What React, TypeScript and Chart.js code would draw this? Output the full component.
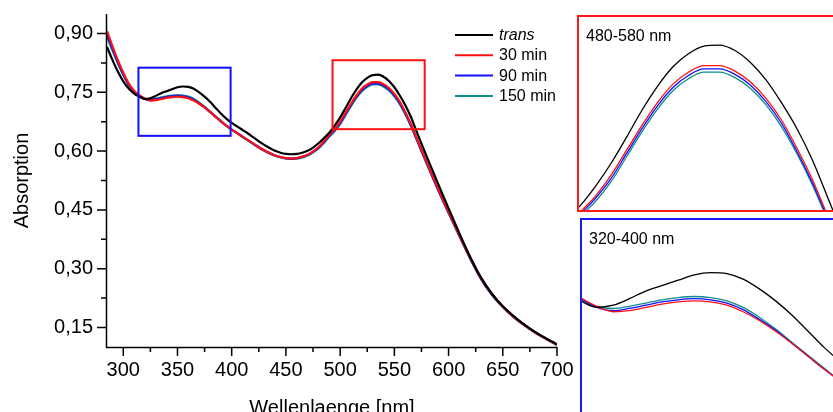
import React, { useEffect, useRef } from "react";
import { Chart, registerables } from "chart.js";

Chart.register(...registerables);

// ---------------- data ----------------
const wavelengths = [
  285, 290, 295, 300, 305, 310, 315, 320, 325, 330, 335, 340, 345, 350, 355, 360,
  365, 370, 375, 380, 385, 390, 395, 400, 405, 410, 415, 420, 425, 430, 435, 440,
  445, 450, 455, 460, 465, 470, 475, 480, 485, 490, 495, 500, 505, 510, 515, 520,
  525, 530, 535, 540, 545, 550, 555, 560, 565, 570, 575, 580, 585, 590, 595, 600,
  610, 620, 630, 640, 650, 660, 670, 680, 690, 700,
];

const transValues = [
  0.866, 0.833, 0.803, 0.778, 0.760, 0.747, 0.739, 0.733, 0.735, 0.741, 0.748, 0.753, 0.758, 0.763, 0.765, 0.764,
  0.759, 0.750, 0.739, 0.726, 0.711, 0.696, 0.683, 0.672, 0.663, 0.654, 0.645, 0.635, 0.625, 0.616, 0.608, 0.601,
  0.596, 0.593, 0.592, 0.593, 0.596, 0.601, 0.609, 0.620, 0.633, 0.647, 0.665, 0.686, 0.710, 0.735, 0.757, 0.775,
  0.787, 0.794, 0.795, 0.790, 0.779, 0.763, 0.742, 0.718, 0.689, 0.654, 0.619, 0.585, 0.552, 0.519, 0.486, 0.454,
  0.390, 0.330, 0.277, 0.236, 0.204, 0.179, 0.157, 0.138, 0.122, 0.107,
];

const min30Values = [
  0.906, 0.868, 0.832, 0.800, 0.773, 0.754, 0.742, 0.734, 0.729, 0.730, 0.733, 0.736, 0.738, 0.739, 0.738, 0.735,
  0.729, 0.721, 0.711, 0.700, 0.688, 0.676, 0.665, 0.655, 0.646, 0.637, 0.628, 0.619, 0.610, 0.602, 0.595, 0.589,
  0.585, 0.582, 0.581, 0.582, 0.586, 0.591, 0.599, 0.610, 0.625, 0.641, 0.656, 0.675, 0.698, 0.721, 0.742, 0.759,
  0.770, 0.776, 0.776, 0.771, 0.761, 0.746, 0.726, 0.700, 0.671, 0.637, 0.603, 0.570, 0.538, 0.506, 0.475, 0.445,
  0.385, 0.327, 0.275, 0.235, 0.203, 0.177, 0.156, 0.137, 0.121, 0.106,
];

const min90Values = [
  0.900, 0.862, 0.827, 0.796, 0.770, 0.752, 0.741, 0.733, 0.730, 0.732, 0.735, 0.738, 0.740, 0.741, 0.740, 0.737,
  0.731, 0.722, 0.712, 0.700, 0.688, 0.676, 0.665, 0.655, 0.646, 0.637, 0.628, 0.619, 0.610, 0.602, 0.595, 0.589,
  0.585, 0.582, 0.581, 0.582, 0.585, 0.590, 0.598, 0.609, 0.623, 0.639, 0.654, 0.672, 0.695, 0.718, 0.739, 0.756,
  0.767, 0.773, 0.773, 0.768, 0.758, 0.743, 0.723, 0.697, 0.668, 0.635, 0.601, 0.568, 0.536, 0.504, 0.473, 0.443,
  0.384, 0.326, 0.274, 0.234, 0.203, 0.177, 0.156, 0.137, 0.121, 0.106,
];

const min150Values = [
  0.892, 0.857, 0.824, 0.794, 0.769, 0.751, 0.741, 0.734, 0.732, 0.734, 0.737, 0.740, 0.742, 0.743, 0.742, 0.739,
  0.733, 0.724, 0.713, 0.701, 0.689, 0.677, 0.665, 0.655, 0.646, 0.636, 0.627, 0.618, 0.609, 0.601, 0.594, 0.588,
  0.584, 0.581, 0.580, 0.581, 0.584, 0.589, 0.597, 0.607, 0.621, 0.637, 0.651, 0.669, 0.692, 0.715, 0.736, 0.753,
  0.764, 0.770, 0.770, 0.765, 0.755, 0.740, 0.720, 0.695, 0.666, 0.633, 0.600, 0.567, 0.535, 0.503, 0.472, 0.442,
  0.383, 0.325, 0.273, 0.233, 0.202, 0.176, 0.155, 0.136, 0.120, 0.105,
];

const seriesLabels = ["trans", "30 min", "90 min", "150 min"];
const seriesValues = [transValues, min30Values, min90Values, min150Values];
const seriesColors = ["#000000", "#ff1010", "#1010ff", "#108c8c"];

const xTicks = [300, 350, 400, 450, 500, 550, 600, 650, 700];
const xMinorTicks = [325, 375, 425, 475, 525, 575, 625, 675];
const yTicks = [0.15, 0.3, 0.45, 0.6, 0.75, 0.9];
const yTickLabels = ["0,15", "0,30", "0,45", "0,60", "0,75", "0,90"];
const yMinorTicks = [0.225, 0.375, 0.525, 0.675, 0.825];

const xTitle = "Wellenlaenge [nm]";
const yTitle = "Absorption";

// zoom boxes (data units): [xMin, xMax, yMin, yMax]
const blueBox = [314, 399, 0.639, 0.813];
const redBox = [493, 578, 0.656, 0.832];

const redInsetLabel = "480-580 nm";
const blueInsetLabel = "320-400 nm";

const FONT = '"Liberation Sans", Arial, Helvetica, sans-serif';

function makeDatasets(width: number) {
  return seriesLabels.map((label, i) => ({
    label,
    data: wavelengths.map((x, j) => ({ x, y: seriesValues[i][j] })),
    borderColor: seriesColors[i],
    backgroundColor: seriesColors[i],
    borderWidth: width,
    pointRadius: 0,
    fill: false,
    cubicInterpolationMode: "monotone" as const,
  }));
}

const mainDecor = {
  id: "mainDecor",
  afterDatasetsDraw(chart: any) {
    const { ctx, chartArea } = chart;
    const xs = chart.scales.x;
    const ys = chart.scales.y;
    ctx.save();
    ctx.strokeStyle = "#000";
    ctx.lineWidth = 1.5;
    // axes
    ctx.beginPath();
    ctx.moveTo(chartArea.left - 0.5, chartArea.top);
    ctx.lineTo(chartArea.left - 0.5, chartArea.bottom + 0.5);
    ctx.lineTo(chartArea.right, chartArea.bottom + 0.5);
    ctx.stroke();
    // ticks
    ctx.beginPath();
    xTicks.forEach((v) => {
      const p = xs.getPixelForValue(v);
      ctx.moveTo(p, chartArea.bottom);
      ctx.lineTo(p, chartArea.bottom + 9);
    });
    xMinorTicks.forEach((v) => {
      const p = xs.getPixelForValue(v);
      ctx.moveTo(p, chartArea.bottom);
      ctx.lineTo(p, chartArea.bottom + 5);
    });
    yTicks.forEach((v) => {
      const p = ys.getPixelForValue(v);
      ctx.moveTo(chartArea.left, p);
      ctx.lineTo(chartArea.left - 10, p);
    });
    yMinorTicks.forEach((v) => {
      const p = ys.getPixelForValue(v);
      ctx.moveTo(chartArea.left, p);
      ctx.lineTo(chartArea.left - 6, p);
    });
    ctx.stroke();

    // zoom boxes
    const drawBox = (b: number[], color: string) => {
      const x1 = xs.getPixelForValue(b[0]);
      const x2 = xs.getPixelForValue(b[1]);
      const y1 = ys.getPixelForValue(b[3]);
      const y2 = ys.getPixelForValue(b[2]);
      ctx.strokeStyle = color;
      ctx.lineWidth = 2;
      ctx.strokeRect(x1, y1, x2 - x1, y2 - y1);
    };
    drawBox(blueBox, "#1010ff");
    drawBox(redBox, "#ff1010");

    // legend
    ctx.textBaseline = "middle";
    ctx.textAlign = "left";
    seriesLabels.forEach((lab, i) => {
      const y = 35 + i * 20.3;
      ctx.strokeStyle = seriesColors[i];
      ctx.lineWidth = 2;
      ctx.beginPath();
      ctx.moveTo(455, y);
      ctx.lineTo(493, y);
      ctx.stroke();
      ctx.fillStyle = "#000";
      ctx.font = (i === 0 ? "italic " : "") + "16px " + FONT;
      ctx.fillText(lab, 499, y + 0.5);
    });
    ctx.restore();
  },
};

function MainChart() {
  const ref = useRef<HTMLCanvasElement>(null);
  useEffect(() => {
    const chart = new Chart(ref.current as HTMLCanvasElement, {
      type: "line",
      data: { datasets: makeDatasets(2.2) as any },
      options: {
        responsive: false,
        animation: false,
        events: [],
        layout: { padding: { top: 14, right: 276, left: 0, bottom: 0 } },
        plugins: { legend: { display: false }, tooltip: { enabled: false } },
        scales: {
          x: {
            type: "linear",
            min: 285,
            max: 700,
            grid: { display: false, drawTicks: false },
            border: { display: false },
            afterBuildTicks: (s: any) => {
              s.ticks = xTicks.map((v) => ({ value: v }));
            },
            afterFit: (s: any) => {
              s.height = 83;
              s.paddingLeft = 0;
              s.paddingRight = 0;
            },
            ticks: {
              color: "#000",
              font: { family: FONT, size: 20 },
              padding: 11,
              maxRotation: 0,
              autoSkip: false,
              callback: (v: any) => String(v),
            },
            title: {
              display: true,
              text: xTitle,
              color: "#000",
              font: { family: FONT, size: 20 },
              padding: { top: 0, bottom: 10 },
            },
          },
          y: {
            type: "linear",
            min: 0.1,
            max: 0.95,
            grid: { display: false, drawTicks: false },
            border: { display: false },
            afterBuildTicks: (s: any) => {
              s.ticks = yTicks.map((v) => ({ value: v }));
            },
            afterFit: (s: any) => {
              s.width = 107;
              s.paddingTop = 0;
              s.paddingBottom = 0;
            },
            ticks: {
              color: "#000",
              font: { family: FONT, size: 20 },
              padding: 14,
              autoSkip: false,
              callback: (v: any) => {
                const idx = yTicks.findIndex((t) => Math.abs(t - v) < 1e-6);
                return idx >= 0 ? yTickLabels[idx] : "";
              },
            },
            title: {
              display: true,
              text: yTitle,
              color: "#000",
              font: { family: FONT, size: 20 },
              padding: { top: 10, bottom: 0 },
            },
          },
        },
      },
      plugins: [mainDecor],
    });
    return () => chart.destroy();
  }, []);
  return (
    <canvas
      ref={ref}
      width={833}
      height={430}
      style={{ position: "absolute", left: 0, top: 0, width: 833, height: 430 }}
    />
  );
}

type InsetProps = {
  left: number;
  top: number;
  width: number;
  height: number;
  xMin: number;
  xMax: number;
  yMin: number;
  yMax: number;
  label: string;
  frame: string;
};

function Inset(p: InsetProps) {
  const ref = useRef<HTMLCanvasElement>(null);
  useEffect(() => {
    const labelPlugin = {
      id: "insetLabel",
      afterDraw(chart: any) {
        const { ctx } = chart;
        ctx.save();
        ctx.fillStyle = "#000";
        ctx.font = "16px " + FONT;
        ctx.textBaseline = "alphabetic";
        ctx.textAlign = "left";
        ctx.fillText(p.label, 7, 24);
        ctx.restore();
      },
    };
    const chart = new Chart(ref.current as HTMLCanvasElement, {
      type: "line",
      data: { datasets: makeDatasets(1.3) as any },
      options: {
        responsive: false,
        animation: false,
        events: [],
        layout: { padding: 0 },
        plugins: { legend: { display: false }, tooltip: { enabled: false } },
        scales: {
          x: { type: "linear", min: p.xMin, max: p.xMax, display: false },
          y: { type: "linear", min: p.yMin, max: p.yMax, display: false },
        },
      },
      plugins: [labelPlugin],
    });
    return () => chart.destroy();
  }, []);
  return (
    <div
      style={{
        position: "absolute",
        left: p.left - 2,
        top: p.top - 2,
        width: p.width + 4,
        height: p.height + 4,
        boxSizing: "border-box",
        border: "2px solid " + p.frame,
        background: "#fff",
        overflow: "hidden",
      }}
    >
      <canvas
        ref={ref}
        width={p.width}
        height={p.height}
        style={{ display: "block", width: p.width, height: p.height }}
      />
    </div>
  );
}

export default function App() {
  return (
    <div
      style={{
        position: "fixed",
        left: 0,
        top: 0,
        width: 833,
        height: 412,
        overflow: "hidden",
        background: "#fff",
      }}
    >
      <MainChart />
      <Inset
        left={579}
        top={17}
        width={280}
        height={193}
        xMin={489.7}
        xMax={580}
        yMin={0.6432}
        yMax={0.8208}
        label={redInsetLabel}
        frame="#ff1a1a"
      />
      <Inset
        left={582}
        top={220}
        width={280}
        height={200}
        xMin={315.4}
        xMax={401.6}
        yMin={0.6294}
        yMax={0.8134}
        label={blueInsetLabel}
        frame="#1a1aff"
      />
    </div>
  );
}
